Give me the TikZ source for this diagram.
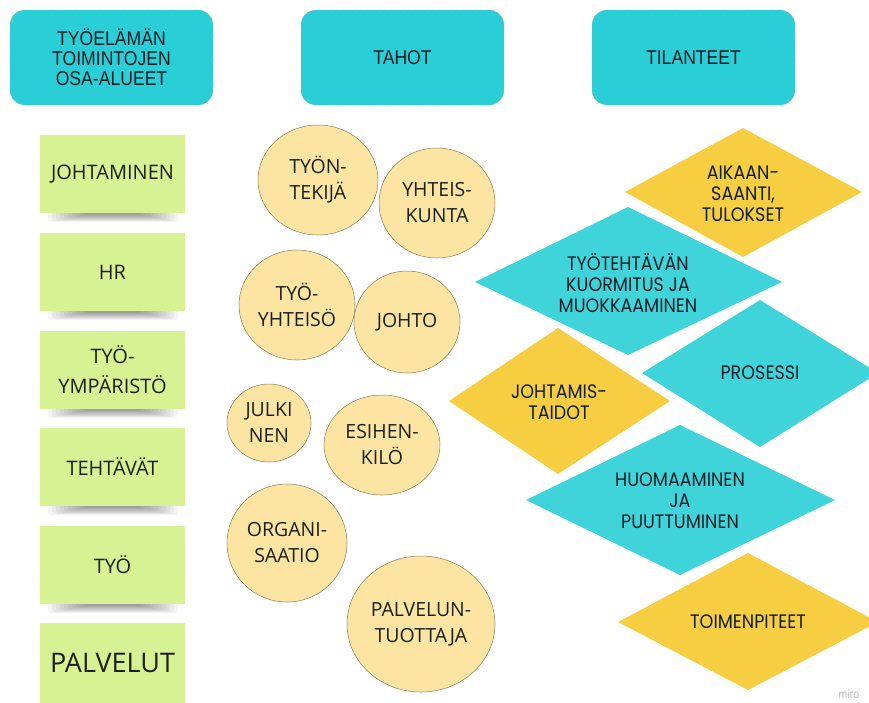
\documentclass[tikz,border=0pt]{standalone}
\usepackage{fontspec}
\setmainfont{Open Sans}
\newfontfamily\headfont[FakeStretch=0.88]{Liberation Sans}
\newfontfamily\diafont[FakeStretch=0.9]{Poppins}
\usetikzlibrary{shapes.geometric}

\definecolor{headcyan}{RGB}{42,206,214}
\definecolor{diacyan}{RGB}{62,212,218}
\definecolor{diayellow}{RGB}{247,206,66}
\definecolor{stickygreen}{RGB}{214,242,146}
\definecolor{circfill}{RGB}{252,228,162}
\definecolor{circline}{RGB}{140,124,92}
\definecolor{inktext}{RGB}{28,32,26}
\definecolor{diatext}{RGB}{16,30,38}

\begin{document}
\begin{tikzpicture}[x=1pt,y=-1pt,
  header/.style={fill=headcyan, draw=gray!60, dashed, line width=0.4pt,
    rounded corners=15pt, minimum width=203pt, minimum height=95pt,
    inner sep=0pt, align=center, text=diatext,
    font=\headfont\fontsize{20}{20}\selectfont},
  sticky/.style={fill=stickygreen, minimum width=145pt, minimum height=78pt,
    inner sep=0pt, align=center, text=inktext,
    font=\fontsize{20}{30}\selectfont},
  bubble/.style={ellipse, fill=circfill, draw=circline, line width=0.5pt,
    inner sep=0pt, align=center, text=inktext,
    font=\fontsize{19.5}{26}\selectfont},
  diatxt/.style={inner sep=0pt, align=center, text=diatext,
    font=\diafont\fontsize{19.5}{21}\selectfont},
  stickyshadow/.style={black, opacity=0.045, rounded corners=3pt}
]
\useasboundingbox (0,0) rectangle (869,702);
\fill[white] (0,0) rectangle (869,702);
\clip (0,0) rectangle (869,702);

% column headers
\node[header] (hdA) at (111.5,57.5) {TYÖELÄMÄN\\TOIMINTOJEN\\OSA-ALUEET};
\node[header] (hdB) at (402.5,57.5) {TAHOT};
\node[header] (hdC) at (693.5,57.5) {TILANTEET};

% soft shadows under the sticky notes
\foreach \b in {213,311,409,506,604} {
  \foreach \k in {0,...,9} {
    \fill[stickyshadow] (48+4*\k,\b-3) rectangle (178-4*\k,\b+9-0.8*\k);
  }
}

% sticky notes
\node[sticky] (stA) at (112.5,174) {JOHTAMINEN};
\node[sticky] (stB) at (112.5,272) {HR};
\node[sticky] (stC) at (112.5,370) {TYÖ-\\YMPÄRISTÖ};
\node[sticky] (stD) at (112.5,467) {TEHTÄVÄT};
\node[sticky] (stE) at (112.5,565) {TYÖ};
\node[sticky, minimum height=80pt, font=\fontsize{27}{32}\selectfont] (stF) at (112.5,663) {PALVELUT};

% actors
\node[bubble, minimum width=120pt, minimum height=110pt] (cTyontekija) at (318,180) {TYÖN-\\TEKIJÄ};
\node[bubble, minimum width=116pt, minimum height=110pt] (cYhteiskunta) at (437,203) {YHTEIS-\\KUNTA};
\node[bubble, minimum width=116pt, minimum height=110pt] (cTyoyhteiso) at (297,305) {TYÖ-\\YHTEISÖ};
\node[bubble, minimum width=106pt, minimum height=102pt] (cJohto) at (407,322) {JOHTO};
\node[bubble, minimum width=84pt, minimum height=78pt] (cJulkinen) at (269,423) {JULKI\\NEN};
\node[bubble, minimum width=116pt, minimum height=100pt] (cEsihenkilo) at (382,445) {ESIHEN-\\KILÖ};
\node[bubble, minimum width=120pt, minimum height=118pt] (cOrganisaatio) at (287,543) {ORGANI-\\SAATIO};
\node[bubble, minimum width=148pt, minimum height=136pt] (cPalvelu) at (421,624) {PALVELUN-\\TUOTTAJA};

% situations
\fill[diayellow] (743,128) -- (862,192) -- (743,257) -- (625,192) -- cycle;
\node[diatxt] (dAikaan) at (743,194) {AIKAAN-\\SAANTI,\\TULOKSET};

\fill[diacyan] (628,207) -- (782,282) -- (628,355) -- (475,282) -- cycle;
\node[diatxt] (dKuormitus) at (628,283) {TYÖTEHTÄVÄN\\KUORMITUS JA\\MUOKKAAMINEN};

\fill[diacyan] (760,300) -- (878,373) -- (760,447) -- (642,373) -- cycle;
\node[diatxt] (dProsessi) at (760,373) {PROSESSI};

\fill[diayellow] (558,328) -- (670,401) -- (558,474) -- (449,401) -- cycle;
\node[diatxt] (dJohtamis) at (559,402) {JOHTAMIS-\\TAIDOT};

\fill[diacyan] (680,425) -- (835,500) -- (680,575) -- (526,500) -- cycle;
\node[diatxt] (dHuomaa) at (680,501) {HUOMAAMINEN\\JA\\PUUTTUMINEN};

\fill[diayellow] (748,553) -- (878,622) -- (748,690) -- (618,622) -- cycle;
\node[diatxt] (dToimen) at (748,622) {TOIMENPITEET};

% board watermark
\node[text=gray!55, font=\headfont\fontsize{12}{14}\selectfont, inner sep=0pt] (mark) at (849,694) {miro};
\end{tikzpicture}
\end{document}
